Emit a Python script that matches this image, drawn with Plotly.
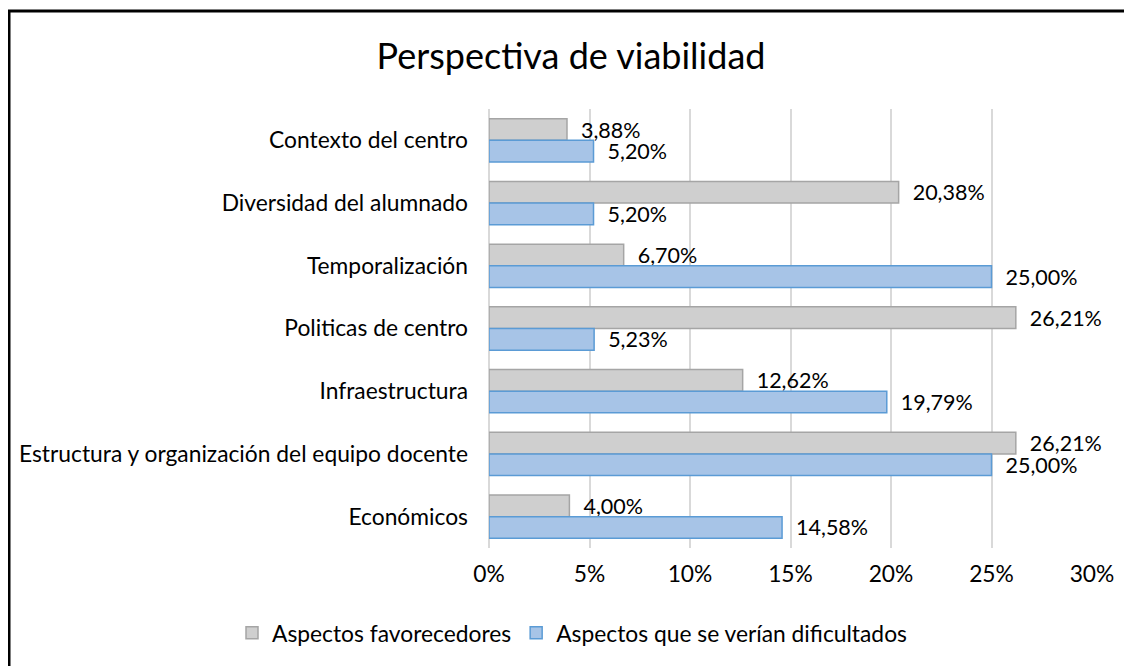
import plotly.graph_objects as go

categories = [
    "Contexto del centro",
    "Diversidad del alumnado",
    "Temporalización",
    "Politicas de centro",
    "Infraestructura",
    "Estructura y organización del equipo docente",
    "Económicos",
]
favorecedores = [0.0388, 0.2038, 0.0670, 0.2621, 0.1262, 0.2621, 0.0400]
dificultados = [0.0520, 0.0520, 0.2500, 0.0523, 0.1979, 0.2500, 0.1458]
x_ticks = [0, 0.05, 0.10, 0.15, 0.20, 0.25, 0.30]

FONT = "Lato"
FS = 22.8
LFS = 21.5

# the page body has an 8px margin, so the figure is shifted by 8px
OFF = 8
FW, FH = 1132 - OFF, 666 - OFF

# target pixel positions (in the screenshot)
PL, PR, PT, PB = 489, 1092, 109, 548
L, R, T, B = PL - OFF, FW - (PR - OFF), PT - OFF, FH - (PB - OFF)
W = FW - L - R
H = FH - T - B


def px2x(px):
    return (px - OFF - L) / W


def py2y(py):
    return (FH - B - (py - OFF)) / H


fig = go.Figure()
fig.add_trace(go.Bar(
    y=categories, x=favorecedores, orientation="h",
    name="Aspectos favorecedores",
    marker=dict(color="#cfcfcf", line=dict(color="#a5a5a5", width=1.5)),
    texttemplate="  %{x:.2%}", textposition="outside", constraintext="none",
    textfont=dict(size=LFS, color="#000000", family=FONT),
    cliponaxis=False,
))
fig.add_trace(go.Bar(
    y=categories, x=dificultados, orientation="h",
    name="Aspectos que se verían dificultados",
    marker=dict(color="#a7c4e7", line=dict(color="#5b9bd5", width=1.5)),
    texttemplate="  %{x:.2%}", textposition="outside", constraintext="none",
    textfont=dict(size=LFS, color="#000000", family=FONT),
    cliponaxis=False,
))

fig.update_layout(
    width=FW, height=FH,
    margin=dict(l=L, r=R, t=T, b=B, autoexpand=False),
    paper_bgcolor="white", plot_bgcolor="white",
    separators=",.",
    barmode="group", bargap=0.31, bargroupgap=0,
    title=dict(text="Perspectiva de viabilidad",
               x=(571 - OFF) / FW, xanchor="center",
               y=1 - (56 - OFF) / FH, yanchor="middle",
               font=dict(size=36, color="#000000", family=FONT)),
    font=dict(family=FONT, size=FS, color="#000000"),
    showlegend=True,
    legend=dict(orientation="h", xref="paper", x=px2x(232),
                xanchor="left", yref="paper",
                y=py2y(633), yanchor="middle",
                font=dict(size=FS, color="#000000", family=FONT),
                itemwidth=30, traceorder="normal"),
    xaxis=dict(range=[0, 0.30], tickvals=x_ticks, tickformat=".0%",
               showgrid=True, gridcolor="#d9d9d9", gridwidth=1.5,
               zeroline=True, zerolinecolor="#d9d9d9", zerolinewidth=1.5,
               showline=False, ticks="", ticklabelstandoff=10,
               tickfont=dict(size=FS, color="#000000", family=FONT)),
    yaxis=dict(autorange="reversed", showgrid=False, showline=False, ticks="",
               ticklabelstandoff=20,
               tickfont=dict(size=FS, color="#000000", family=FONT)),
    shapes=[
        dict(type="line", xref="paper", yref="paper",
             x0=px2x(9), x1=px2x(9), y0=py2y(10), y1=py2y(680),
             line=dict(color="#000000", width=3)),
        dict(type="line", xref="paper", yref="paper",
             x0=px2x(8), x1=px2x(1150), y0=py2y(11), y1=py2y(11),
             line=dict(color="#000000", width=3)),
    ],
)

fig.write_html("out.html")
